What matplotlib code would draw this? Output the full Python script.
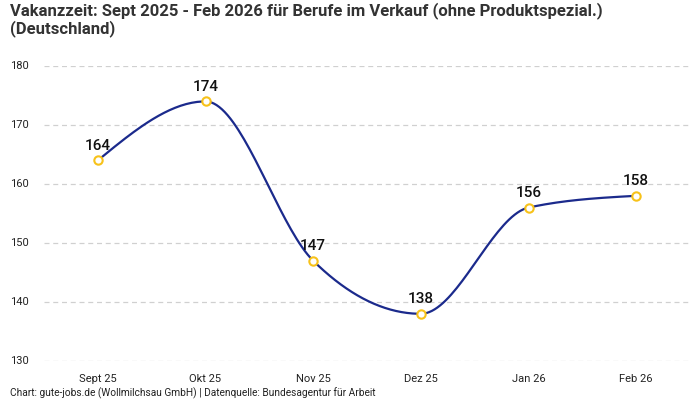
import numpy as np
import matplotlib.pyplot as plt

plt.rcParams['font.family'] = ['Roboto', 'DejaVu Sans']

months = ["Sept 25", "Okt 25", "Nov 25", "Dez 25", "Jan 26", "Feb 26"]
vakanz = [164, 174, 147, 138, 156, 158]
y_ticks = [130, 140, 150, 160, 170, 180]

title = "Vakanzzeit: Sept 2025 - Feb 2026 für Berufe im Verkauf (ohne Produktspezial.)\n(Deutschland)"
footer = "Chart: gute-jobs.de (Wollmilchsau GmbH) | Datenquelle: Bundesagentur für Arbeit"


def monotone_curve(x, y, n=40):
    # monotone cubic (like d3 curveMonotoneX) just for drawing the smooth line
    x = np.asarray(x, float)
    y = np.asarray(y, float)
    h = np.diff(x)
    d = np.diff(y) / h
    m = np.zeros_like(y)
    for i in range(1, len(y) - 1):
        if d[i - 1] * d[i] <= 0:
            m[i] = 0
        else:
            s0, s1 = d[i - 1], d[i]
            p = (s0 * h[i] + s1 * h[i - 1]) / (h[i - 1] + h[i])
            m[i] = (np.sign(s0) + np.sign(s1)) * min(abs(s0), abs(s1), 0.5 * abs(p))
    m[0] = (3 * d[0] - m[1]) / 2
    m[-1] = (3 * d[-1] - m[-2]) / 2
    xs, ys = [], []
    for i in range(len(h)):
        t = np.linspace(0, 1, n)
        h00 = 2 * t**3 - 3 * t**2 + 1
        h10 = t**3 - 2 * t**2 + t
        h01 = -2 * t**3 + 3 * t**2
        h11 = t**3 - t**2
        xs.append(x[i] + t * h[i])
        ys.append(h00 * y[i] + h10 * h[i] * m[i] + h01 * y[i + 1] + h11 * h[i] * m[i + 1])
    return np.concatenate(xs), np.concatenate(ys)


fig = plt.figure(figsize=(7, 4), dpi=100)
ax = fig.add_axes([44 / 700, 39 / 400, 646 / 700, 295 / 400])

xpos = np.arange(len(months))
cx, cy = monotone_curve(xpos, vakanz)
ax.plot(cx, cy, color="#1b2a8c", lw=1.6, zorder=3)
ax.plot(xpos, vakanz, "o", ms=6, mfc="white", mec="#f7c21a", mew=1.5, zorder=4)

for x, v in zip(xpos, vakanz):
    ax.annotate(str(v), (x, v), xytext=(0, 5.5), textcoords="offset points",
                ha="center", va="bottom", fontsize=11, fontweight="medium", color="#111111")

ax.set_xlim(-0.5, len(months) - 0.5)
ax.set_ylim(130, 180)
ax.set_xticks(xpos)
ax.set_xticklabels(months, fontsize=8, color="#222222")
ax.set_yticks(y_ticks)
ax.set_yticklabels([])
for t in y_ticks:
    ax.axhline(t, color="#d0d0d0", lw=0.9, ls=(0, (4, 3)), zorder=1)
    fig.text(10 / 700, ax.transData.transform((0, t))[1] / 400, str(t),
             ha="left", va="center", fontsize=8, color="#222222")

ax.tick_params(length=0, pad=9)
for s in ax.spines.values():
    s.set_visible(False)

fig.text(10 / 700, 1 - 2 / 400, title, ha="left", va="top", fontsize=12,
         fontweight="bold", color="#333333", linespacing=1.12)
fig.text(10 / 700, 7 / 400, footer, ha="left", va="center", fontsize=7.3, color="#222222")

fig.savefig("out.png", dpi=100)
